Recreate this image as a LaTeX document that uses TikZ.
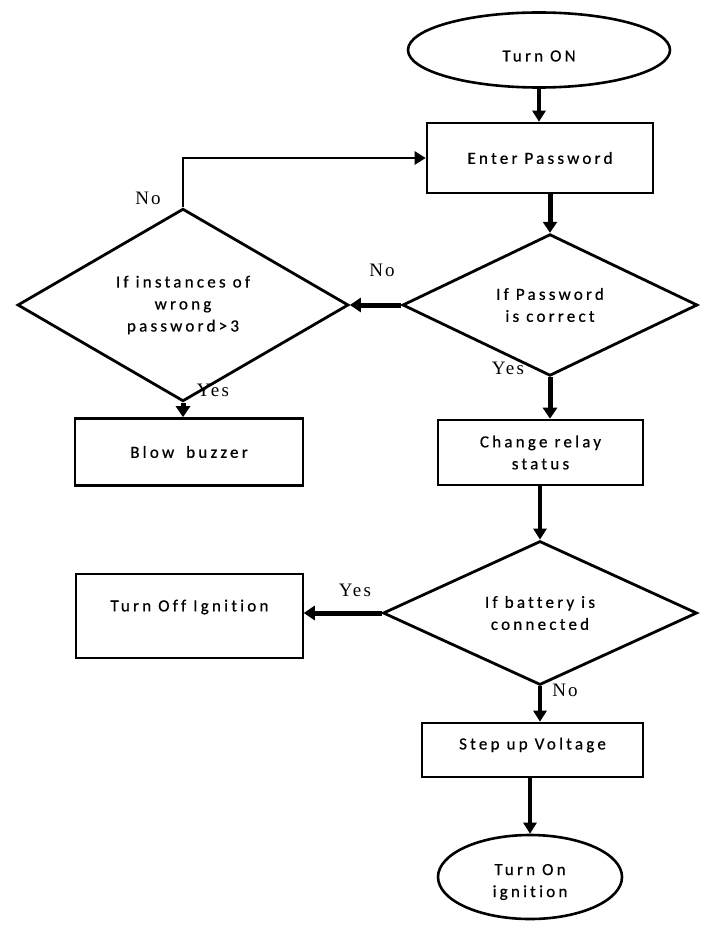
\documentclass[tikz,border=0pt]{standalone}
\usepackage{fontspec}
\setmainfont{Carlito}
\newfontfamily\boxfont[LetterSpace=19, Ligatures=NoCommon, FakeBold=0.6]{Carlito}
\newfontfamily\labfont[LetterSpace=12]{Liberation Serif}
\usetikzlibrary{shapes.geometric,arrows.meta}
\begin{document}
\begin{tikzpicture}[x=1pt,y=-1pt,
  shapetext/.style={font={\boxfont\fontsize{17pt}{22pt}\selectfont}, align=center, text=black},
  proc/.style={draw, rectangle, line width=2.6pt, inner sep=0pt, shapetext},
  term/.style={draw, ellipse, line width=2.6pt, inner sep=0pt, shapetext},
  dec/.style={draw, diamond, line width=2.8pt, inner sep=0pt, shapetext},
  lab/.style={font={\labfont\fontsize{19pt}{20pt}\selectfont}, inner sep=0pt, text=black},
  med/.style={line width=3.2pt, -{Triangle[length=11pt,width=13pt]}},
  loopline/.style={line width=2.5pt, -{Triangle[length=11pt,width=13pt]}},
  thk/.style={line width=5pt, -{Triangle[length=11pt,width=14pt]}}
]
\path[use as bounding box, fill=white] (0,0) rectangle (703,925);

\node[term, minimum width=262pt, minimum height=75pt] (on) at (539,50) {};
\node[shapetext] (ontext) at (539,56) {Turn ON};
\node[proc, minimum width=226pt, minimum height=70pt] (enter) at (540,158) {Enter Password};
\node[dec, minimum width=295pt, minimum height=118pt] (d1) at (550,305) {If Password\\is correct};
\node[dec, minimum width=331pt, minimum height=162pt] (d0) at (183,305) {If instances of\\wrong\\password>3};
\node[proc, minimum width=228pt, minimum height=67pt] (buzz) at (189,452) {Blow\hspace{5pt} buzzer};
\node[proc, minimum width=205pt, minimum height=65pt] (relay) at (540.5,452.5) {Change relay\\status};
\node[dec, minimum width=314pt, minimum height=134pt] (d2) at (540,613) {If battery is\\connected};
\node[proc, line width=1.5pt, minimum width=227pt, minimum height=84pt] (off) at (189.5,616) {};
\node[shapetext] (offtext) at (189.5,607) {Turn Off Ignition};
\node[proc, minimum width=221pt, minimum height=54pt] (step) at (532.5,750) {};
\node[shapetext] (steptext) at (532.5,745) {Step up Voltage};
\node[term, minimum width=184pt, minimum height=84pt] (ign) at (530,877) {};
\node[shapetext] (igntext) at (530,882) {Turn On\\ignition};

\draw[med] (on.south) -- (on.south |- enter.north);
\draw[thk] (d1.north |- enter.south) -- (d1.north);
\draw[thk] (d1.west) -- (d0.east);
\draw[loopline] (d0.north) |- (enter.west);
\draw[thk] (d0.south) -- (d0.south |- buzz.north);
\draw[thk] (d1.south) -- (d1.south |- relay.north);
\draw[med] (d2.north |- relay.south) -- (d2.north);
\draw[thk] (d2.west) -- (d2.west -| off.east);
\draw[med] (d2.south) -- (d2.south |- step.north);
\draw[med] (ign.north |- step.south) -- (ign.north);

\node[lab] (noA) at (148,198) {No};
\node[lab] (noB) at (382,270) {No};
\node[lab] (yesA) at (213,390) {Yes};
\node[lab] (yesB) at (508,368) {Yes};
\node[lab] (yesC) at (355,590) {Yes};
\node[lab] (noC) at (565,690) {No};
\end{tikzpicture}
\end{document}
